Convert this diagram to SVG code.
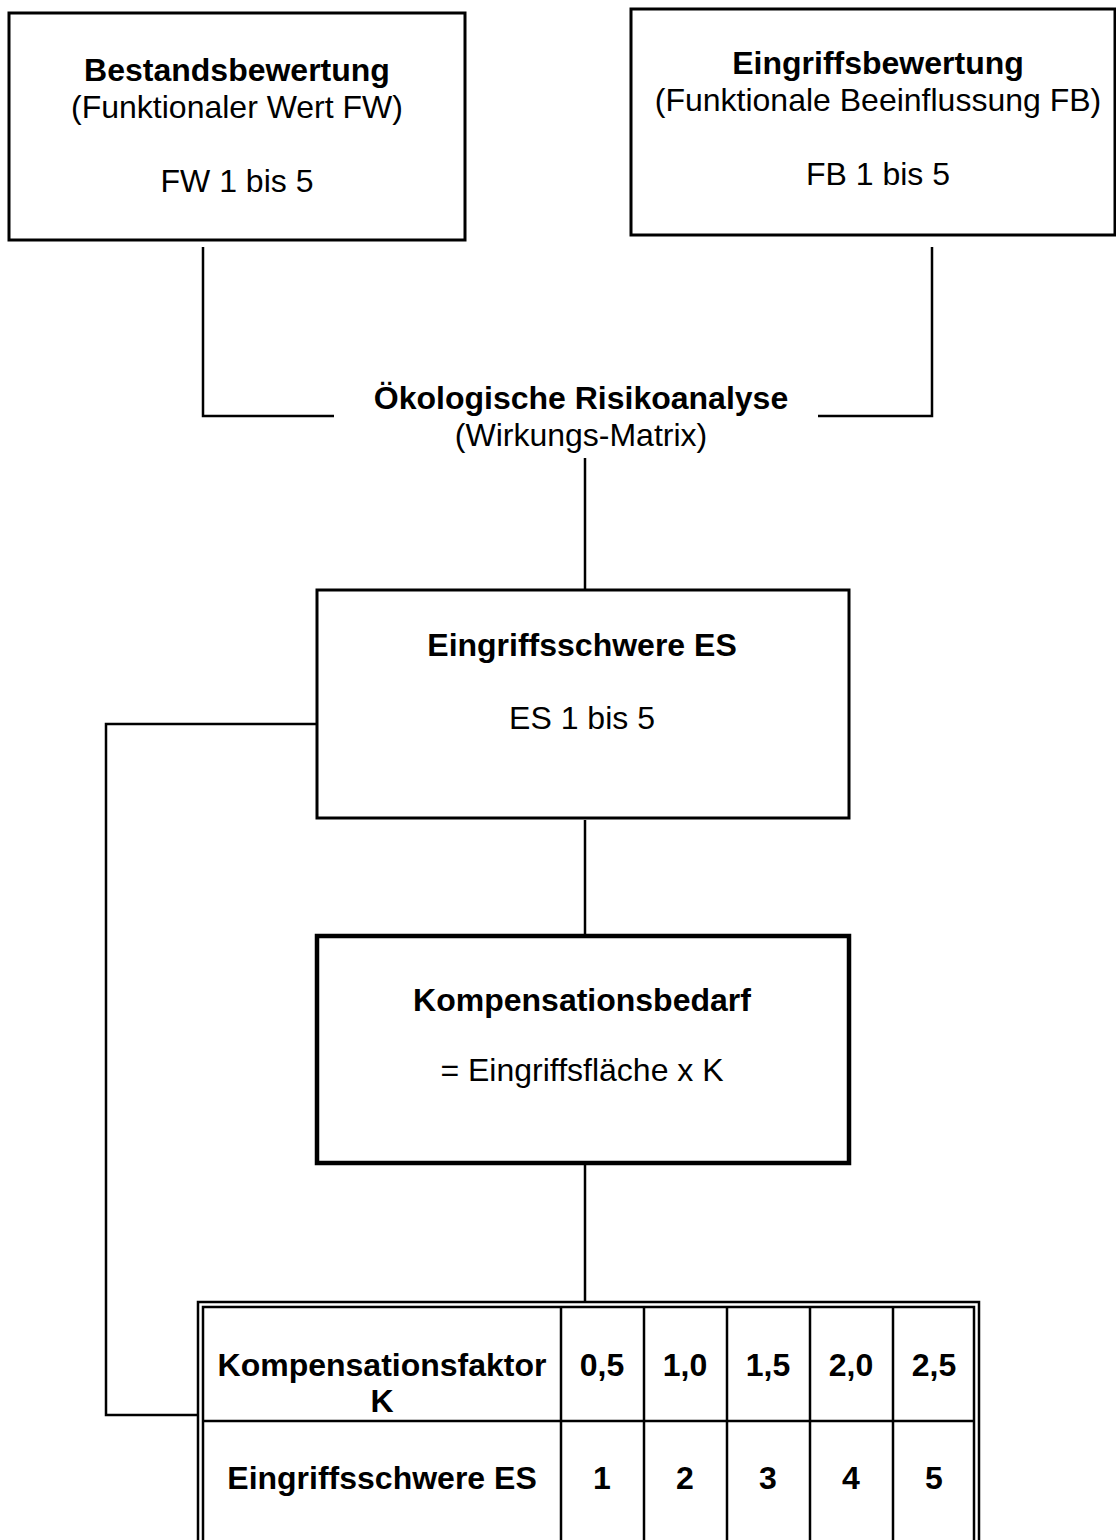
<svg xmlns="http://www.w3.org/2000/svg" width="1116" height="1540" viewBox="0 0 1116 1540">
<style>
text{font-family:"Liberation Sans",Arial,sans-serif;font-size:32px;fill:#000;text-anchor:middle}
.b{font-weight:bold}
.box{fill:#fff;stroke:#000;stroke-width:3}
.thick{fill:#fff;stroke:#000;stroke-width:4.5}
.ln{fill:none;stroke:#000;stroke-width:2.5}
.grid{fill:none;stroke:#000;stroke-width:2.5}
</style>
<rect width="1116" height="1540" fill="#fff"/>
<g id="connectors">
<polyline class="ln" points="203,247 203,416 334,416"/>
<polyline class="ln" points="818,416 932,416 932,247"/>
<line class="ln" x1="585" y1="458" x2="585" y2="590"/>
<line class="ln" x1="585" y1="820" x2="585" y2="935"/>
<line class="ln" x1="585" y1="1165" x2="585" y2="1301"/>
<polyline class="ln" points="317,724 106,724 106,1415 198,1415"/>
</g>
<g id="bestand">
<rect class="box" x="9" y="13" width="456" height="227"/>
<text class="b" x="237" y="81">Bestandsbewertung</text>
<text x="237" y="118">(Funktionaler Wert FW)</text>
<text x="237" y="192">FW 1 bis 5</text>
</g>
<g id="eingriff">
<rect class="box" x="631" y="9" width="484" height="226"/>
<text class="b" x="878" y="74">Eingriffsbewertung</text>
<text x="878" y="111">(Funktionale Beeinflussung FB)</text>
<text x="878" y="185">FB 1 bis 5</text>
</g>
<g id="risiko">
<text class="b" x="581" y="409">Ökologische Risikoanalyse</text>
<text x="581" y="446">(Wirkungs-Matrix)</text>
</g>
<g id="es">
<rect class="box" x="317" y="590" width="532" height="228"/>
<text class="b" x="582" y="656">Eingriffsschwere ES</text>
<text x="582" y="729">ES 1 bis 5</text>
</g>
<g id="kompbedarf">
<rect class="thick" x="317" y="936" width="532" height="227"/>
<text class="b" x="582" y="1011">Kompensationsbedarf</text>
<text x="582" y="1081">= Eingriffsfläche x K</text>
</g>
<g id="tabelle">
<rect class="grid" x="198" y="1302" width="781" height="260"/>
<rect class="grid" x="203" y="1307" width="771" height="260"/>
<line class="grid" x1="203" y1="1421" x2="974" y2="1421"/>
<line class="grid" x1="561" y1="1307" x2="561" y2="1540"/>
<line class="grid" x1="644" y1="1307" x2="644" y2="1540"/>
<line class="grid" x1="727" y1="1307" x2="727" y2="1540"/>
<line class="grid" x1="810" y1="1307" x2="810" y2="1540"/>
<line class="grid" x1="893" y1="1307" x2="893" y2="1540"/>
<text class="b" x="382" y="1376">Kompensationsfaktor</text>
<text class="b" x="382" y="1412">K</text>
<text class="b" x="602" y="1376">0,5</text>
<text class="b" x="685" y="1376">1,0</text>
<text class="b" x="768" y="1376">1,5</text>
<text class="b" x="851" y="1376">2,0</text>
<text class="b" x="934" y="1376">2,5</text>
<text class="b" x="382" y="1489">Eingriffsschwere ES</text>
<text class="b" x="602" y="1489">1</text>
<text class="b" x="685" y="1489">2</text>
<text class="b" x="768" y="1489">3</text>
<text class="b" x="851" y="1489">4</text>
<text class="b" x="934" y="1489">5</text>
</g>
</svg>
